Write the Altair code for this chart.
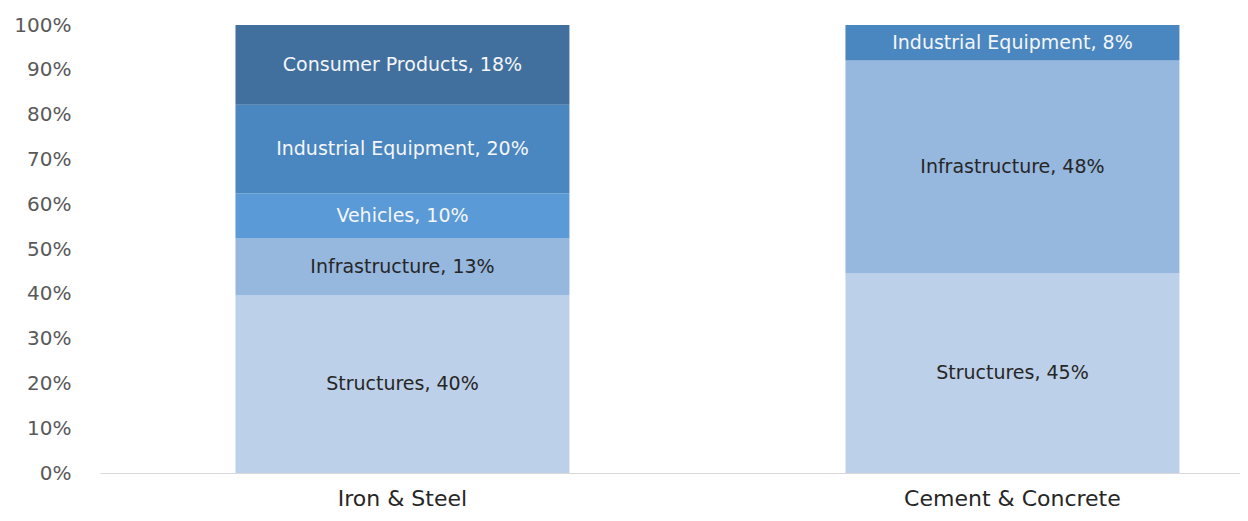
import altair as alt
import pandas as pd

categories = ["Iron & Steel", "Cement & Concrete"]
segments = ["Structures", "Infrastructure", "Vehicles", "Industrial Equipment", "Consumer Products"]
iron_steel = [40, 13, 10, 20, 18]
cement_concrete = [45, 48, 0, 8, 0]

rows = []
for cat, vals in zip(categories, [iron_steel, cement_concrete]):
    for i, (seg, v) in enumerate(zip(segments, vals)):
        if v > 0:
            rows.append({"category": cat, "segment": seg, "value": v, "order": i,
                         "label": f"{seg}, {v}%"})
df = pd.DataFrame(rows)

bar_colors = ["#BDD0E9", "#96B7DE", "#5A9AD6", "#4A86C0", "#41709F"]
text_colors = ["#262626", "#262626", "#F4F6FA", "#F4F6FA", "#F4F6FA"]
FONT = "DejaVu Sans"

x = alt.X("category:N", sort=categories, title=None,
          scale=alt.Scale(paddingInner=0.4525, paddingOuter=0.1607, align=0.691),
          axis=alt.Axis(labelAngle=0, ticks=False, domainColor="#D9D9D9", domainWidth=1,
                        labelFont=FONT, labelFontSize=22, labelColor="#262626",
                        labelPadding=15, labelLimit=0, grid=False))

base = alt.Chart(df).transform_stack(
    stack="value", groupby=["category"], as_=["y0", "y1"], offset="normalize",
    sort=[alt.SortField("order", order="ascending")]
).transform_calculate(mid="(datum.y0 + datum.y1) / 2")

bars = base.mark_bar().encode(
    x=x,
    y=alt.Y("y0:Q", title=None, scale=alt.Scale(domain=[0, 1], nice=False),
            axis=alt.Axis(values=[i / 10 for i in range(11)], format=".0%", grid=False,
                          domain=False, ticks=False, labelFont=FONT, labelFontSize=20,
                          labelColor="#595959", labelPadding=29)),
    y2="y1:Q",
    color=alt.Color("segment:N", scale=alt.Scale(domain=segments, range=bar_colors), legend=None),
)

labels = base.mark_text(font=FONT, fontSize=19, baseline="middle", align="center").encode(
    x=alt.X("category:N", sort=categories),
    y=alt.Y("mid:Q"),
    text="label:N",
    fill=alt.Fill("segment:N", scale=alt.Scale(domain=segments, range=text_colors), legend=None),
)

chart = alt.layer(bars, labels).resolve_scale(fill="independent", color="independent").properties(
    width=1140, height=448,
    autosize=alt.AutoSizeParams(type="none"),
    padding={"left": 92, "top": 17, "right": 0, "bottom": 40},
).configure_view(stroke=None)

chart.save("out.html", embed_options={"renderer": "svg", "actions": False})
